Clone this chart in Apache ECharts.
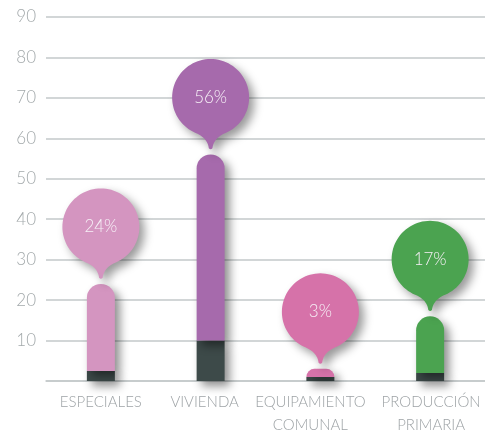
<!DOCTYPE html>
<html>
<head>
<meta charset="utf-8">
<script src="https://cdn.jsdelivr.net/npm/echarts@6/dist/echarts.min.js"></script>
<style>
html,body{margin:0;padding:0;background:#fff;}
#chart{width:485px;height:436px;}
</style>
</head>
<body>
<div id="chart"></div>
<script>
const categories = ['ESPECIALES', 'VIVIENDA', 'EQUIPAMIENTO\nCOMUNAL', 'PRODUCCIÓN\nPRIMARIA'];
const totals = [24, 56, 3, 16];
const bases = [2.5, 10, 1, 2];
const bubbleLabels = ['24%', '56%', '3%', '17%'];
const colors = ['#d495c0', '#a66aac', '#d672a9', '#4ba350'];
const baseColor = '#3d4a49';

const chart = echarts.init(document.getElementById('chart'));
const FONT = 'Lato, "Open Sans", sans-serif';

function quad(p0, c, p1, n, out) {
  for (let i = 1; i <= n; i++) {
    const t = i / n, u = 1 - t;
    out.push([u*u*p0[0] + 2*u*t*c[0] + t*t*p1[0], u*u*p0[1] + 2*u*t*c[1] + t*t*p1[1]]);
  }
}

function bubblePoints(cx, cy, r, tipY) {
  const pts = [];
  const hw = 15;
  const a0 = Math.PI / 2 + Math.asin(hw / r);
  const a1 = Math.PI / 2 - Math.asin(hw / r) + 2 * Math.PI;
  const n = 80;
  for (let i = 0; i <= n; i++) {
    const a = a0 + (a1 - a0) * i / n;
    pts.push([cx + r * Math.cos(a), cy + r * Math.sin(a)]);
  }
  const rj = pts[pts.length - 1];
  quad(rj, [cx + 3, cy + r + 2], [cx + 1.8, tipY - 1.2], 12, pts);
  quad([cx + 1.8, tipY - 1.2], [cx, tipY + 0.8], [cx - 1.8, tipY - 1.2], 4, pts);
  quad([cx - 1.8, tipY - 1.2], [cx - 3, cy + r + 2], pts[0], 12, pts);
  return pts;
}

const shadow = {shadowBlur: 10, shadowOffsetX: 5, shadowOffsetY: 5, shadowColor: 'rgba(0,0,0,0.45)'};
const labelStyle = {color: '#9ea3a6', fontSize: 15, fontFamily: FONT, fontWeight: 300, lineHeight: 23};

chart.setOption({
  animation: false,
  grid: {left: 46, right: 0, top: 17, bottom: 55, containLabel: false, outerBoundsMode: 'none'},
  xAxis: {
    type: 'category',
    data: categories,
    axisLine: {lineStyle: {color: '#c3c9ca', width: 1.5}},
    axisTick: {length: 10, lineStyle: {color: '#c9cecf'}, interval: function (i) { return i !== 0; }},
    axisLabel: Object.assign({
      interval: 0, margin: 10,
      formatter: function (v, i) {
        const key = ['s0', 's1', 's2', 's3'][i];
        return v.split('\n').map(function (l) { return '{' + key + '|' + l + '}'; }).join('\n');
      },
      rich: {
        s0: Object.assign({}, labelStyle),
        s1: Object.assign({padding: [0, 12, 0, 0]}, labelStyle),
        s2: Object.assign({padding: [0, 20, 0, 0]}, labelStyle),
        s3: Object.assign({padding: [0, 0, 0, 2]}, labelStyle)
      }
    }, labelStyle)
  },
  yAxis: {
    type: 'value',
    min: 0, max: 90, interval: 10,
    axisLine: {show: false},
    axisTick: {show: false},
    splitLine: {lineStyle: {color: '#c3c9ca', width: 1.5}},
    axisLabel: {color: '#a3a9ab', fontSize: 17, fontFamily: FONT, fontWeight: 300, margin: 10,
      formatter: function (v) { return v === 0 ? '' : String(v); }}
  },
  series: [
    {
      type: 'bar', stack: 's', barWidth: 28,
      data: bases,
      itemStyle: Object.assign({color: baseColor}, shadow)
    },
    {
      type: 'bar', stack: 's', barWidth: 28,
      data: totals.map(function (t, i) {
        return {value: t - bases[i], itemStyle: {color: colors[i]}};
      }),
      itemStyle: Object.assign({borderRadius: [14, 14, 0, 0]}, shadow)
    },
    {
      type: 'custom',
      data: totals.map(function (t, i) { return [i, t]; }),
      z: 10,
      renderItem: function (params, api) {
        const p = api.coord([api.value(0), api.value(1)]);
        const i = params.dataIndex;
        const tipY = p[1] - 5;
        const r = 38.5;
        const cy = tipY - 52;
        const cx = p[0];
        return {
          type: 'group',
          children: [
            {
              type: 'polygon',
              shape: {points: bubblePoints(cx, cy, r, tipY)},
              style: Object.assign({fill: colors[i]}, {shadowBlur: 10, shadowOffsetX: 5, shadowOffsetY: 5, shadowColor: 'rgba(0,0,0,0.4)'})
            },
            {
              type: 'text',
              style: {text: bubbleLabels[i], x: cx, y: cy, textAlign: 'center', textVerticalAlign: 'middle',
                fill: '#f6eff6', font: '300 17px ' + FONT}
            }
          ]
        };
      }
    }
  ]
});
</script>
</body>
</html>
